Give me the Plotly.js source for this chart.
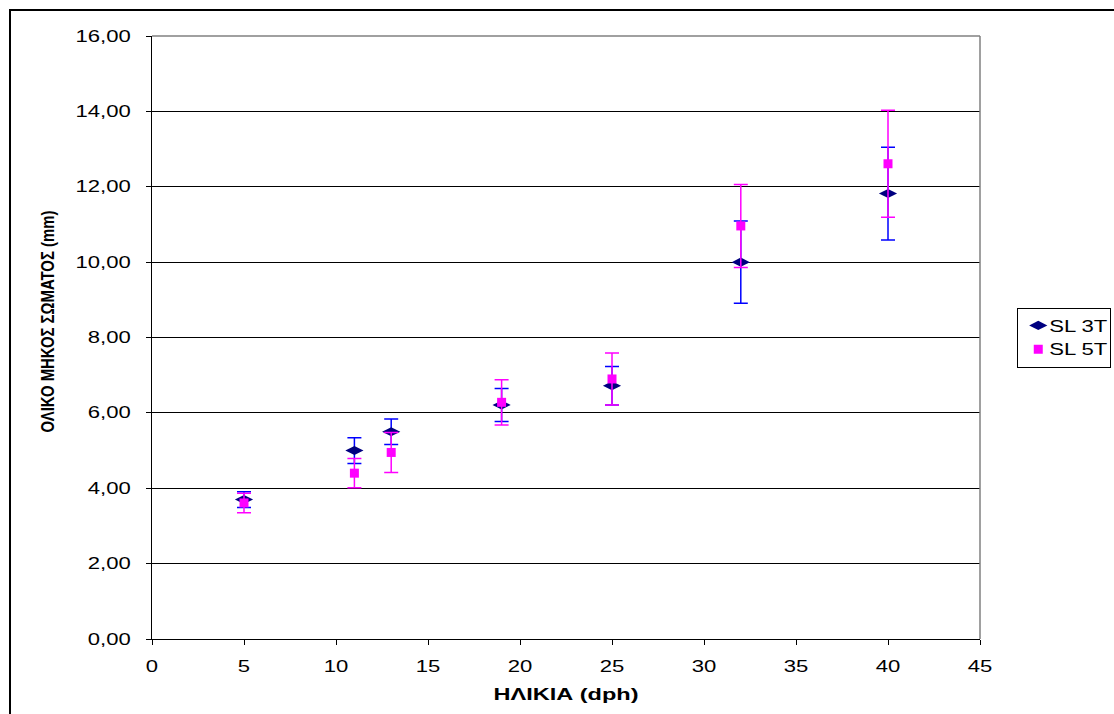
<!DOCTYPE html>
<html>
<head>
<meta charset="utf-8">
<script src="https://cdn.plot.ly/plotly-3.0.1.min.js"></script>
<style>
  html, body { margin: 0; padding: 0; background: #fff; }
  #wrap { position: relative; width: 1114px; height: 714px; overflow: hidden; }
  #chart { width: 1114px; height: 714px; }
  #frame { position: absolute; left: 9px; top: 9px; width: 1200px; height: 800px;
           border-left: 2px solid #000; border-top: 2px solid #000; pointer-events: none; }
</style>
</head>
<body>
<div id="wrap">
  <div id="chart"></div>
  <div id="frame"></div>
</div>
<script>
const ages = [5, 11, 13, 19, 25, 32, 40];
const sl3T = [3.70, 5.00, 5.50, 6.21, 6.72, 10.00, 11.82];
const sl3TErr = [0.21, 0.34, 0.34, 0.44, 0.51, 1.09, 1.23];
const sl5T = [3.61, 4.40, 4.95, 6.28, 6.90, 10.96, 12.61];
const sl5TErr = [0.26, 0.39, 0.53, 0.60, 0.69, 1.10, 1.42];
const seriesNames = ['SL 3T', 'SL 5T'];
const xTitle = 'ΗΛΙΚΙΑ (dph)';
const yTitle = 'ΟΛΙΚΟ ΜΗΚΟΣ ΣΩΜΑΤΟΣ (mm)';

const traces = [
  {
    x: ages, y: sl3T, name: seriesNames[0], type: 'scatter', mode: 'markers',
    marker: { symbol: 'diamond-wide', size: 13, color: '#000080' },
    error_y: { type: 'data', array: sl3TErr, visible: true, color: '#0000FF', thickness: 1.5, width: 7 }
  },
  {
    x: ages, y: sl5T, name: seriesNames[1], type: 'scatter', mode: 'markers',
    marker: { symbol: 'square', size: 9, color: '#FF00FF' },
    error_y: { type: 'data', array: sl5TErr, visible: true, color: '#FF00FF', thickness: 1.5, width: 7 }
  }
];

const fam = 'Liberation Sans, Arial, sans-serif';
const font = { family: fam, size: 16, color: '#000' };

const layout = {
  width: 1114, height: 714,
  margin: { l: 152, r: 134, t: 36, b: 75, autoexpand: false },
  paper_bgcolor: '#fff', plot_bgcolor: '#fff',
  separators: ',.',
  font: font,
  showlegend: true,
  legend: {
    x: 1.045, y: 0.5, xanchor: 'left', yanchor: 'middle',
    bordercolor: '#000', borderwidth: 1, bgcolor: '#fff',
    font: { family: fam, size: 16, color: '#000' },
    itemwidth: 30, tracegroupgap: 2
  },
  xaxis: {
    range: [0, 45], dtick: 5, tick0: 0,
    showgrid: false, zeroline: false,
    showline: true, linecolor: '#000', linewidth: 1,
    ticks: 'outside', ticklen: 5, tickcolor: '#000',
    ticklabelstandoff: 8,
    tickfont: font,
    title: { text: xTitle, font: { family: fam, size: 16, color: '#000', weight: 'bold' }, standoff: 14 }
  },
  yaxis: {
    range: [0, 16], dtick: 2, tick0: 0, tickformat: '.2f',
    showgrid: true, gridcolor: '#000', gridwidth: 1, zeroline: false,
    showline: true, linecolor: '#000', linewidth: 1,
    ticks: 'outside', ticklen: 5, tickcolor: '#000',
    ticklabelstandoff: 12,
    tickfont: font,
    title: { text: yTitle, font: { family: fam, size: 19, color: '#000', weight: 'bold' }, standoff: 31 }
  },
  shapes: [
    { type: 'line', xref: 'paper', yref: 'paper', x0: 1, x1: 1, y0: 0, y1: 1, line: { color: '#808080', width: 1.5 } },
    { type: 'line', xref: 'paper', yref: 'paper', x0: 0, x1: 1, y0: 1, y1: 1, line: { color: '#808080', width: 1.5 } }
  ]
};

function stretch(nodes, factor, target) {
  nodes.forEach(function (t) {
    const len = t.getComputedTextLength();
    if (!len) return;
    t.setAttribute('textLength', target ? target : len * factor);
    t.setAttribute('lengthAdjust', 'spacingAndGlyphs');
  });
}

Plotly.newPlot('chart', traces, layout, { displayModeBar: false, staticPlot: true }).then(function (gd) {
  stretch(Array.from(gd.querySelectorAll('.xtick text, .ytick text')), 1.38);
  stretch(Array.from(gd.querySelectorAll('.legend .legendtext')), 1.38);
  stretch(Array.from(gd.querySelectorAll('.g-xtitle text')), 1, 145);
  stretch(Array.from(gd.querySelectorAll('.g-ytitle text')), 1, 222);
  const yt = gd.querySelector('.g-ytitle');
  if (yt) yt.setAttribute('transform', 'translate(0,-16)');
  gd.querySelectorAll('.legend .legendtext').forEach(function (t) { t.setAttribute('x', 31); });
  const bg = gd.querySelector('.legend rect.bg');
  if (bg) bg.setAttribute('width', 93);
  gd.querySelectorAll('clipPath[id^="legend"] rect').forEach(function (r) { r.setAttribute('width', 100); });
});
</script>
</body>
</html>
